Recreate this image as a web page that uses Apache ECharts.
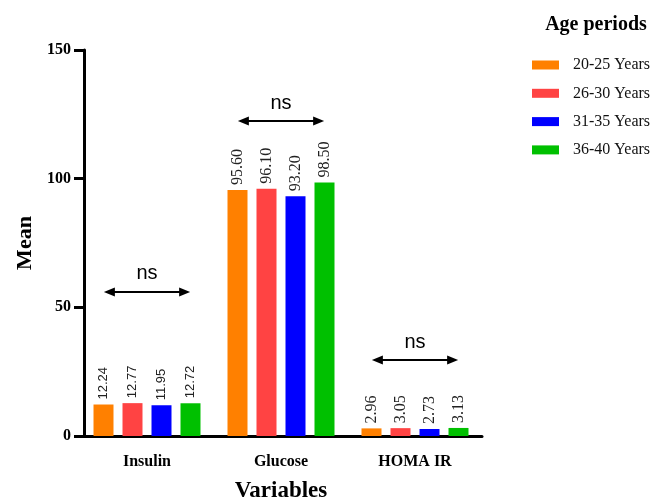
<!DOCTYPE html>
<html>
<head>
<meta charset="utf-8">
<script src="https://cdn.jsdelivr.net/npm/echarts@6/dist/echarts.min.js"></script>
<style>
  html, body { margin: 0; padding: 0; background: #fff; }
  #chart { width: 652px; height: 503px; }
</style>
</head>
<body>
<div id="chart"></div>
<script>
// data
var categories = ["Insulin", "Glucose", "HOMA IR"];
var ageGroups = ["20-25 Years", "26-30 Years", "31-35 Years", "36-40 Years"];
var age20_25 = [12.24, 95.60, 2.96];
var age26_30 = [12.77, 96.10, 3.05];
var age31_35 = [11.95, 93.20, 2.73];
var age36_40 = [12.72, 98.50, 3.13];
var yTicks = [0, 50, 100, 150];
// "ns" brackets: height (in data units) of each arrow
var nsLevels = [56, 122.4, 29.5];
var nsLabels = ["ns", "ns", "ns"];

var colors = ["#FF8000", "#FF4343", "#0000FF", "#00C000"];
var serif = "Liberation Serif";
var sans = "Liberation Sans";

var myChart = echarts.init(document.getElementById("chart"));

function barSeries(name, values, color) {
  return {
    name: name,
    type: "bar",
    barWidth: 20,
    barGap: "45%",
    itemStyle: { color: color },
    label: {
      show: true,
      position: "top",
      rotate: 90,
      align: "left",
      verticalAlign: "middle",
      distance: 5,
      color: "#222",
      fontFamily: serif,
      fontSize: 16,
      formatter: function (p) { return p.value.toFixed(2); }
    },
    data: values.map(function (v, i) {
      // the insulin labels are set in a smaller sans face
      if (i === 0) return { value: v, label: { fontFamily: sans, fontSize: 13 } };
      return v;
    })
  };
}

// double headed arrow + "ns" text above a category
function renderNs(params, api) {
  var pt = api.coord([api.value(0), api.value(1)]);
  var half = api.size([1, 0])[0] * 0.322;
  var x0 = pt[0] - half, x1 = pt[0] + half, y = pt[1];
  var head = 11, hw = 4.5;
  return {
    type: "group",
    children: [
      { type: "line", shape: { x1: x0 + head - 1, y1: y, x2: x1 - head + 1, y2: y },
        style: { stroke: "#000", lineWidth: 2 } },
      { type: "polygon", shape: { points: [[x0, y], [x0 + head, y - hw], [x0 + head, y + hw]] },
        style: { fill: "#000" } },
      { type: "polygon", shape: { points: [[x1, y], [x1 - head, y - hw], [x1 - head, y + hw]] },
        style: { fill: "#000" } },
      { type: "text", x: pt[0], y: y - 18,
        style: { text: nsLabels[params.dataIndex], fill: "#000", font: "20px " + sans,
          align: "center", verticalAlign: "middle" } }
    ]
  };
}

var option = {
  animation: false,
  title: {
    text: "Age periods",
    left: 591,
    top: 10,
    textAlign: "center",
    textStyle: { fontFamily: serif, fontWeight: "bold", fontSize: 20, color: "#000" }
  },
  legend: {
    data: ageGroups,
    orient: "vertical",
    left: 527,
    top: 52,
    itemWidth: 27,
    itemHeight: 9,
    itemGap: 12.3,
    icon: "rect",
    textStyle: { fontFamily: serif, fontSize: 16, color: "#111", lineHeight: 16, padding: [0, 0, 0, 9] }
  },
  grid: { left: 80, top: 50, width: 402, height: 386, outerBoundsMode: "none", containLabel: false },
  xAxis: {
    type: "category",
    data: categories,
    name: "Variables",
    nameLocation: "middle",
    nameGap: 44,
    nameTextStyle: { fontFamily: serif, fontWeight: "bold", fontSize: 23, color: "#000" },
    axisLine: { lineStyle: { color: "#000", width: 3 } },
    axisTick: { alignWithLabel: true, length: 9, lineStyle: { color: "#000", width: 3 } },
    axisLabel: { margin: 18, fontFamily: serif, fontWeight: "bold", fontSize: 16, color: "#000" }
  },
  yAxis: {
    type: "value",
    min: yTicks[0],
    max: yTicks[yTicks.length - 1],
    interval: yTicks[1] - yTicks[0],
    offset: -4,
    name: "Mean",
    nameLocation: "middle",
    nameGap: 48,
    nameTextStyle: { fontFamily: serif, fontWeight: "bold", fontSize: 22, color: "#000" },
    axisLine: { show: true, lineStyle: { color: "#000", width: 3 } },
    axisTick: { show: true, length: 10, lineStyle: { color: "#000", width: 3 } },
    axisLabel: { margin: 13, fontFamily: serif, fontWeight: "bold", fontSize: 16, color: "#000" },
    splitLine: { show: false }
  },
  series: [
    barSeries(ageGroups[0], age20_25, colors[0]),
    barSeries(ageGroups[1], age26_30, colors[1]),
    barSeries(ageGroups[2], age31_35, colors[2]),
    barSeries(ageGroups[3], age36_40, colors[3]),
    {
      type: "custom",
      silent: true,
      renderItem: renderNs,
      data: nsLevels.map(function (v, i) { return [i, v]; }),
      z: 5
    }
  ]
};

myChart.setOption(option);
</script>
</body>
</html>
